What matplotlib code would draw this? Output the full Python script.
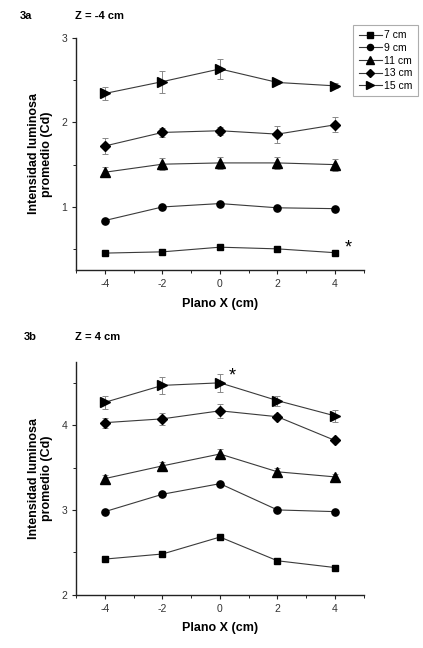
import matplotlib
matplotlib.use("Agg")
import matplotlib.pyplot as plt
from matplotlib.ticker import MultipleLocator

plt.rcParams['font.family'] = ['Liberation Sans', 'DejaVu Sans']
plt.rcParams['axes.unicode_minus'] = False

x = [-4, -2, 0, 2, 4]
series_labels = ['7 cm', '9 cm', '11 cm', '13 cm', '15 cm']
markers = ['s', 'o', '^', 'D', '>']
marker_sizes = [4.6, 5.2, 6.5, 5.2, 6.5]

# Panel 3a: Z = -4 cm
a_vals = [
    [0.455, 0.47, 0.525, 0.505, 0.46],
    [0.84, 1.00, 1.04, 0.99, 0.98],
    [1.41, 1.505, 1.52, 1.52, 1.50],
    [1.72, 1.88, 1.90, 1.86, 1.97],
    [2.34, 2.48, 2.63, 2.47, 2.43],
]
a_err = [
    [0.01, 0.01, 0.01, 0.01, 0.01],
    [0.02, 0.02, 0.02, 0.02, 0.02],
    [0.06, 0.07, 0.07, 0.07, 0.07],
    [0.10, 0.05, 0.05, 0.10, 0.09],
    [0.08, 0.13, 0.12, 0.02, 0.03],
]

# Panel 3b: Z = 4 cm
b_vals = [
    [2.42, 2.48, 2.68, 2.40, 2.32],
    [2.98, 3.185, 3.31, 3.00, 2.98],
    [3.37, 3.52, 3.66, 3.45, 3.39],
    [4.03, 4.075, 4.17, 4.10, 3.82],
    [4.27, 4.47, 4.50, 4.29, 4.11],
]
b_err = [
    [0.01, 0.01, 0.01, 0.01, 0.01],
    [0.02, 0.02, 0.02, 0.02, 0.02],
    [0.04, 0.04, 0.06, 0.04, 0.03],
    [0.06, 0.07, 0.08, 0.03, 0.02],
    [0.08, 0.10, 0.11, 0.06, 0.07],
]

fig = plt.figure(figsize=(4.23, 6.48), dpi=100)
ax1 = fig.add_axes([0.180, 0.583, 0.680, 0.359])
ax2 = fig.add_axes([0.180, 0.0823, 0.680, 0.3596])

line_col = '#3a3a3a'

def draw(ax, vals, errs, ylim, yticks):
    handles = []
    for v, e, m, ms, lab in zip(vals, errs, markers, marker_sizes, series_labels):
        ax.errorbar(x, v, yerr=e, fmt='none', ecolor='#888888', elinewidth=0.7,
                    capsize=2, capthick=0.7, zorder=2)
        h, = ax.plot(x, v, color=line_col, lw=0.8, marker=m, ms=ms,
                     mfc='black', mec='black', label=lab, zorder=3)
        handles.append(h)
    ax.set_xlim(-5, 5)
    ax.set_ylim(*ylim)
    ax.set_xticks([-4, -2, 0, 2, 4])
    ax.xaxis.set_minor_locator(MultipleLocator(1))
    ax.set_yticks(yticks)
    ax.yaxis.set_minor_locator(MultipleLocator(0.5))
    for s in ('top', 'right'):
        ax.spines[s].set_visible(False)
    for s in ('left', 'bottom'):
        ax.spines[s].set_linewidth(1.0)
        ax.spines[s].set_color('#222222')
    ax.tick_params(which='major', direction='out', length=3, width=0.8,
                   labelsize=7.5, labelcolor='#333333', color='#222222')
    ax.tick_params(which='minor', direction='out', length=2, width=0.7, color='#222222')
    ax.set_xlabel('Plano X (cm)', fontsize=9, fontweight='bold', labelpad=6)
    ax.set_ylabel('Intensidad luminosa\npromedio (Cd)', fontsize=9,
                  fontweight='bold', labelpad=6, linespacing=1.15)
    return handles

h = draw(ax1, a_vals, a_err, (0.253, 3.0), [1, 2, 3])
draw(ax2, b_vals, b_err, (2.0, 4.75), [2, 3, 4])

leg = fig.legend(handles=h, loc='upper right', bbox_to_anchor=(0.988, 0.962),
                 borderaxespad=0.0,
                 fontsize=7.5, frameon=True, fancybox=False, handlelength=2.2,
                 handletextpad=0.2, borderpad=0.55, labelspacing=0.25,
                 edgecolor='#999999', markerscale=0.85)
leg.get_frame().set_linewidth(0.8)

fig.text(0.047, 0.975, '3a', fontsize=8, fontweight='bold', va='center')
fig.text(0.178, 0.975, 'Z = -4 cm', fontsize=8, fontweight='bold', va='center')
fig.text(0.057, 0.48, '3b', fontsize=8, fontweight='bold', va='center')
fig.text(0.178, 0.48, 'Z = 4 cm', fontsize=8, fontweight='bold', va='center')

ax1.text(4.35, 0.52, '*', fontsize=13, ha='left', va='center')
ax2.text(0.3, 4.58, '*', fontsize=13, ha='left', va='center')

fig.savefig('out.png', dpi=100)
